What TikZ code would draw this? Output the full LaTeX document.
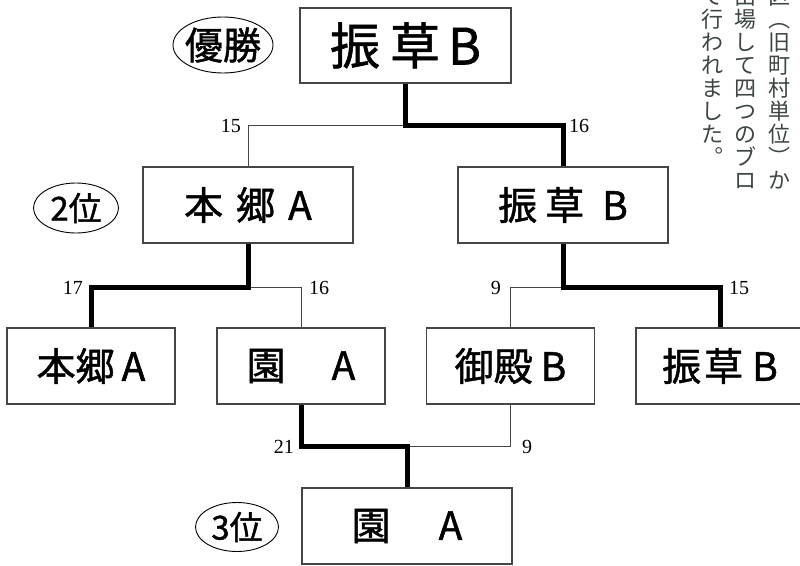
\documentclass[tikz,border=0pt]{standalone}
\usepackage{fontspec}
\usepackage{tikz}
\usetikzlibrary{shapes.geometric}

\newfontfamily\gothic[FakeBold=1.2]{Noto Sans CJK JP}
\newfontfamily\colfont{Noto Sans CJK JP}
\newfontfamily\scorefont{Liberation Serif}
\definecolor{linegray}{RGB}{70,70,70}
\definecolor{inkgray}{RGB}{60,70,66}

\tikzset{
  team/.style={draw=linegray, line width=1.2pt, minimum width=210pt, minimum height=76pt,
    inner sep=0pt, text=black, font=\gothic\fontsize{39}{39}\selectfont},
  smallteam/.style={team, minimum width=168pt},
  rank/.style={ellipse, draw=black, line width=0.9pt, inner sep=0pt},
  score/.style={inner sep=0pt, font=\scorefont\fontsize{20}{20}\selectfont},
  win/.style={line width=5pt},
  lose/.style={draw=linegray, line width=0.9pt},
  vch/.style={inner sep=0pt, text height=18.5pt, text depth=3pt, text=inkgray,
    font=\colfont\fontsize{22}{22}\selectfont}
}

\begin{document}
\begin{tikzpicture}[x=1pt,y=-1pt]
\useasboundingbox (0,0) rectangle (800,565);
\clip (0,0) rectangle (800,565);

% teams
\node[team, minimum width=211pt, minimum height=75pt, font=\gothic\fontsize{50}{50}\selectfont]
  (champ) at (405.5,45.5) {振\hspace{10pt}草\hspace{8pt}B};
\node[team] (semiL) at (248,205) {本\hspace{13pt}郷\hspace{13pt}A};
\node[team] (semiR) at (563,205) {振\hspace{8pt}草\hspace{18pt}B};
\node[smallteam] (qfA) at (91,366) {本郷\hspace{7pt}A};
\node[smallteam] (qfB) at (301,366) {園\hspace{46pt}A};
\node[smallteam] (qfC) at (510.5,366) {御殿\hspace{8pt}B};
\node[smallteam] (qfD) at (720,366) {振\hspace{3pt}草\hspace{9pt}B};
\node[team] (third) at (407,526) {園\hspace{48pt}A};

% ranks
\node[rank, minimum width=100pt, minimum height=56pt, font=\gothic\fontsize{38}{38}\selectfont]
  (rank1) at (223,45) {\makebox[0pt]{優勝}};
\node[rank, minimum width=85pt, minimum height=50pt, font=\gothic\fontsize{33}{33}\selectfont]
  (rank2) at (76,208) {\makebox[0pt]{2位}};
\node[rank, minimum width=83pt, minimum height=49pt, font=\gothic\fontsize{33}{33}\selectfont]
  (rank3) at (237,527) {\makebox[0pt]{3位}};

% losers
\draw[lose] (champ.south) ++(0,42) -| (semiL.north);
\draw[lose] (semiL.south) ++(0,44) -| (qfB.north);
\draw[lose] (semiR.south) ++(0,44) -| (qfC.north);
\draw[lose] (qfC.south) -- ++(0,42) -| (third.north);
% winners
\draw[win] (champ.south) -- ++(0,42) -| (semiR.north);
\draw[win] (semiL.south) -- ++(0,44) -| (qfA.north);
\draw[win] (semiR.south) -- ++(0,44) -| (qfD.north);
\draw[win] (qfB.south) -- ++(0,42) -| (third.north);

% scores
\node[score, anchor=east] (sc1) at (241,126) {15};
\node[score, anchor=west] (sc2) at (569,126) {16};
\node[score, anchor=east] (sc3) at (83,288) {17};
\node[score, anchor=west] (sc4) at (309,288) {16};
\node[score, anchor=east] (sc5) at (501,288) {9};
\node[score, anchor=west] (sc6) at (729,288) {15};
\node[score, anchor=east] (sc7) at (294,447) {21};
\node[score, anchor=west] (sc8) at (522,447) {9};

% text column (cut at the top)
\foreach \c [count=\i from 0] in {区,︵,旧,町,村,単,位,︶,か}
  \node[vch] (colA-\i) at (779,-3+23*\i) {\c};
\foreach \c [count=\i from 0] in {出,場,し,て,四,つ,の,ブ,ロ}
  \node[vch] (colB-\i) at (745,-3+23*\i) {\c};
\foreach \c [count=\i from 0] in {で,行,わ,れ,ま,し,た,︒}
  \node[vch] (colC-\i) at (712,-3+23*\i) {\c};
\end{tikzpicture}
\end{document}
